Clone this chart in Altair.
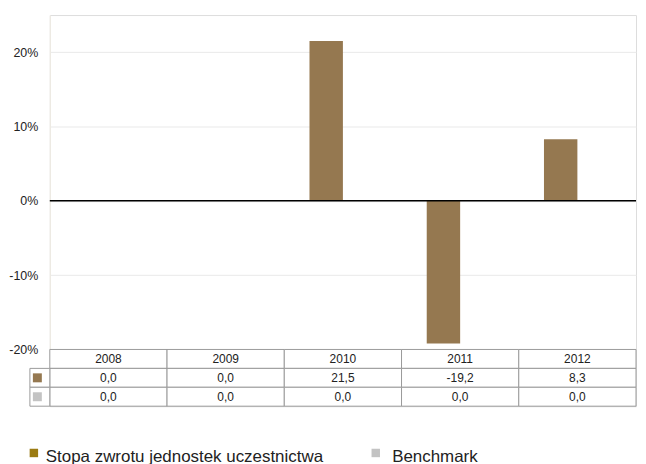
import altair as alt
import pandas as pd

years = ["2008", "2009", "2010", "2011", "2012"]
series = ["Stopa zwrotu jednostek uczestnictwa", "Benchmark"]
fund_values = [0.0, 0.0, 21.5, -19.2, 8.3]
bench_values = [0.0, 0.0, 0.0, 0.0, 0.0]
bar_colors = ["#957850", "#c3c3c3"]
legend_colors = ["#9b7b12", "#c3c3c3"]
y_ticks = [-20, -10, 0, 10, 20]

FONT = "Liberation Sans"
W = 589
H = 336
TH = 57

rows = []
for s, vals in zip(series, [fund_values, bench_values]):
    for yr, v in zip(years, vals):
        rows.append({"year": yr, "series": s, "value": v,
                     "label": f"{v:.1f}".replace(".", ",")})
df = pd.DataFrame(rows)

# ---------- bar panel ----------
x_bar = alt.X("year:N", sort=years, axis=None,
              scale=alt.Scale(paddingInner=0.43, paddingOuter=0.215))
color = alt.Color("series:N", sort=series,
                  scale=alt.Scale(domain=series, range=bar_colors), legend=None)

bars = alt.Chart(df).mark_bar().encode(
    x=x_bar,
    xOffset=alt.XOffset("series:N", sort=series,
                        scale=alt.Scale(domain=series, paddingInner=0, paddingOuter=0)),
    y=alt.Y("value:Q",
            scale=alt.Scale(domain=[-20, 25], nice=False),
            axis=alt.Axis(values=y_ticks, labelExpr="datum.value + '%'",
                          title=None, grid=True, gridColor="#e9e9e9",
                          domain=True, domainColor="#efebe2", ticks=False,
                          labelPadding=12, labelFontSize=12.5, labelColor="#222",
                          labelFont=FONT, minExtent=41, maxExtent=41)),
    color=color,
)

zero_rule = alt.Chart(pd.DataFrame({"v": [0]})).mark_rule(
    color="#000", strokeWidth=1.5).encode(y="v:Q")

top = alt.layer(bars, zero_rule).properties(width=W, height=H)

# ---------- data table panel ----------
row_order = ["header"] + series
trows = [{"year": yr, "row": "header", "label": yr} for yr in years]
trows += [{"year": r["year"], "row": r["series"], "label": r["label"]} for r in rows]
tdf = pd.DataFrame(trows)

x_t = alt.X("year:N", sort=years, axis=None,
            scale=alt.Scale(paddingInner=0, paddingOuter=0))
y_t = alt.Y("row:N", sort=row_order, axis=None,
            scale=alt.Scale(domain=row_order, paddingInner=0, paddingOuter=0))

cells = alt.Chart(tdf).mark_rect(fill="white", stroke="#9a9a9a", strokeWidth=1).encode(
    x=x_t, y=y_t)
cell_text = alt.Chart(tdf).mark_text(fontSize=12, color="#222", font=FONT).encode(
    x=x_t, y=y_t, text="label:N")

sdf = pd.DataFrame({"row": series})
icon_cells = alt.Chart(sdf).mark_rect(fill="white", stroke="#9a9a9a", strokeWidth=1).encode(
    x=alt.value(-20), x2=alt.value(0), y=y_t)
icon_squares = alt.Chart(sdf).mark_square(size=81, opacity=1).encode(
    x=alt.value(-12.5), y=y_t,
    color=alt.Color("row:N", scale=alt.Scale(domain=series, range=bar_colors), legend=None))

# ---------- legend (drawn below the table) ----------
legend_layers = []
legend_pos = [(-16, -4), (327.5, 344)]
for s, c, (sx, tx) in zip(series, legend_colors, legend_pos):
    ldf = pd.DataFrame({"name": [s]})
    legend_layers.append(alt.Chart(ldf).mark_square(size=72, opacity=1, color=c).encode(
        x=alt.value(sx), y=alt.value(104)))
    legend_layers.append(alt.Chart(ldf).mark_text(
        align="left", baseline="alphabetic", fontSize=17, color="#222", font=FONT).encode(
        x=alt.value(tx), y=alt.value(113), text="name:N"))

table = alt.layer(cells, cell_text, icon_cells, icon_squares, *legend_layers).properties(
    width=W, height=TH)

chart = alt.vconcat(top, table, spacing=0, bounds="flush").properties(
    padding={"top": 5, "left": 0, "right": 0, "bottom": 0}
).configure_view(stroke=None).configure(font=FONT)

chart.save("out.html", embed_options={"renderer": "svg", "actions": False})
